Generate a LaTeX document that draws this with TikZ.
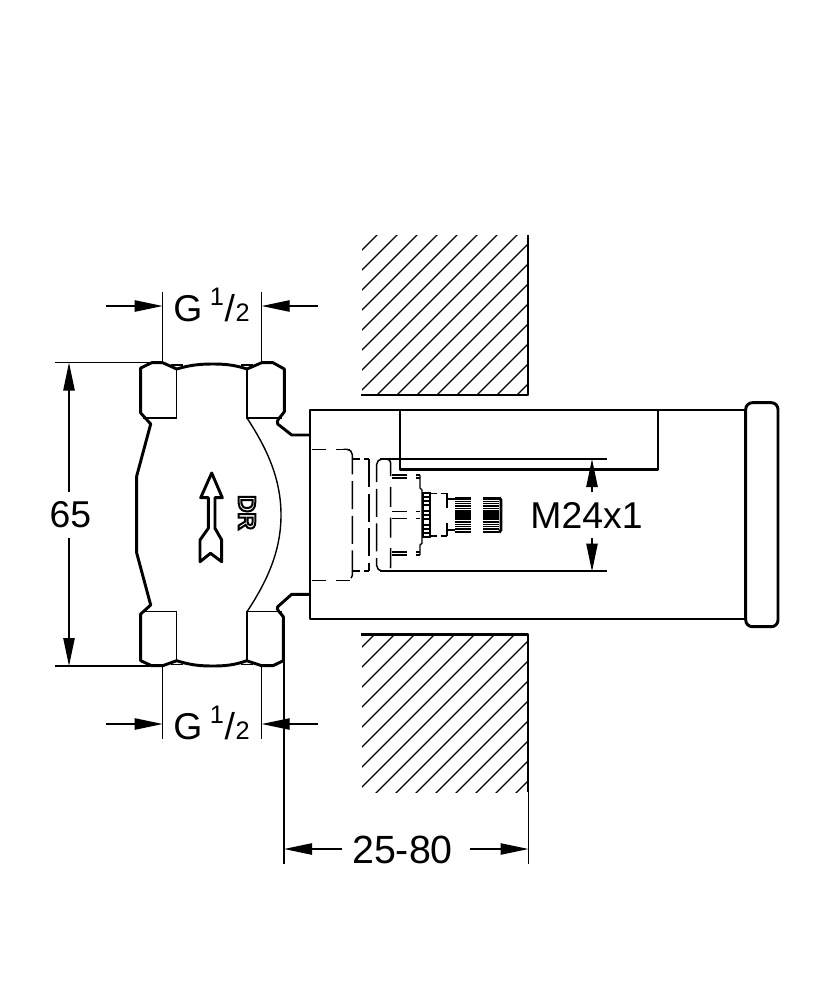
\documentclass[tikz,border=0pt]{standalone}
\usepackage{fontspec}
\setmainfont{Liberation Sans}
\usetikzlibrary{arrows.meta}
\newcommand{\halfsize}{G\kern0.2em\raisebox{0.45em}{\fontsize{19}{20}\selectfont 1}\kern0.02em/\kern0.02em{\fontsize{19}{20}\selectfont 2}}
\tikzset{
  thinline/.style={line width=1.05pt},
  thickline/.style={line width=2.2pt,line join=round},
  hatchline/.style={line width=1pt},
  dashline/.style={line width=1.1pt,dash pattern=on 21pt off 5pt},
  dashshort/.style={line width=1.1pt,dash pattern=on 11pt off 7pt},
  dimarrow/.style={line width=1.05pt,-{Triangle[length=21pt,width=8.5pt]}},
  dimtext/.style={inner sep=0pt,font=\fontsize{28}{32}\selectfont}
}
\begin{document}
\begin{tikzpicture}[x=0.75pt,y=0.75pt,yscale=-1,xscale=1]
	\useasboundingbox (0,0) rectangle (834,1000);

	%Wall top
	\begin{scope}
		\clip (362,235) rectangle (528,395);
		\foreach \c in {612,632,...,912}
			\draw [hatchline] (\c-400,400) -- (\c-200,200);
	\end{scope}
	\draw [thickline] (528,235) -- (528,395) -- (361,395);
	%Wall bottom
	\begin{scope}
		\clip (362,635) rectangle (528,792);
		\foreach \c in {1009,1029,...,1309}
			\draw [hatchline] (\c-820,820) -- (\c-620,620);
	\end{scope}
	\draw [thickline] (528,792) -- (528,634.5) -- (361,634.5);

	%Valve body
	\draw [thickline] (310,435) -- (291.7,435) -- (277.7,424) .. controls (276,420) and (280,418) .. (284.3,411.7) -- (284.3,369) -- (273,362.7) -- (261.7,362.7) -- (247,369) .. controls (235,365) and (225,364) .. (213,364) .. controls (200,364) and (190,365) .. (176.7,369) -- (162.7,362.7) -- (151.7,362.7) -- (140.7,368) -- (140.7,413) -- (150.7,424) -- (136.7,476) -- (136.7,553) -- (150.7,605) -- (140.7,614) -- (140.7,660.7) -- (151.7,665.7) -- (162.7,665.7) -- (176.7,660.7) .. controls (190,665) and (200,666) .. (213,666) .. controls (225,666) and (235,665) .. (246.7,660.7) -- (261.7,665.7) -- (273,665.7) -- (283.3,660.7) -- (283.3,616.7) .. controls (280,612) and (276,610) .. (277.7,606.7) -- (291.7,594.3) -- (310,594.3);
	\draw [thinline] (143,418) -- (176.7,418) -- (176.7,369);
	\draw [thinline] (281.7,418) -- (247,418) -- (247,369);
	\draw [thinline] (143,611.7) -- (176.7,611.7) -- (176.7,660.7);
	\draw [thinline] (281.7,611.7) -- (247,611.7) -- (247,660.7);
	\draw [thinline] (247,418) .. controls (268,450) and (281,480) .. (281,515) .. controls (281,550) and (268,580) .. (247,611.7);
	\draw [thinline] (171,365) -- (183,365);
	\draw [thinline] (241,365) -- (253,365);
	\draw [thinline] (171,664.5) -- (183,664.5);
	\draw [thinline] (241,664.5) -- (253,664.5);
	%Flow arrow
	\draw [thickline] (211.7,473) -- (200.7,497.7) -- (208.3,497.7) -- (208.3,528.3) -- (200,540) -- (200,561.7) -- (210.5,553.3) -- (221.7,561.7) -- (221.7,540) -- (215,528.3) -- (215,497.7) -- (222.3,497.7) -- cycle;
	\node (dr) at (247,512.5) [rotate=-90,inner sep=0pt,font=\bfseries\fontsize{18}{22}\selectfont] {\special{pdf:code 1 Tr 1.5 w}DR\special{pdf:code 0 Tr}};

	%Housing
	\draw [thickline] (745.7,410) -- (310,410) -- (310,619) -- (745.7,619);
	\draw [thickline] (400,410) -- (400,469.5) -- (658,469.5) -- (658,410);
	\draw [thickline,rounded corners=5pt] (745.7,500) -- (745.7,402.7) -- (778,402.7) -- (778,626.7) -- (745.7,626.7) -- cycle;

	%Hidden parts
	\draw [dashshort] (311.7,449.3) -- (350,449.3);
	\draw [dashshort] (311.7,580.7) -- (350,580.7);
	\draw [dashline,rounded corners=4pt] (347,449.3) -- (352.3,449.3) -- (352.3,580.7) -- (347,580.7);
	\draw [dashshort,dash pattern=on 5pt off 3pt] (353,459) -- (369,459);
	\draw [dashshort,dash pattern=on 5pt off 3pt] (353,571) -- (369,571);
	\draw [dashline] (369,459) -- (369,571);
	\draw [dashline,rounded corners=4pt] (380,459) -- (376.7,459) -- (376.7,571) -- (380,571);
	\draw [dashline,dash pattern=on 15pt off 8pt,rounded corners=3pt] (386,459) -- (390.7,459) -- (390.7,571) -- (386,571);
	\draw [dashshort] (392,475) -- (420,475);
	\draw [dashshort] (392,478) -- (420,478);
	\draw [dashshort] (392,552) -- (420,552);
	\draw [dashshort] (392,555) -- (420,555);
	\draw [dashshort] (392,511.7) -- (420,511.7);
	\draw [dashshort] (392,518.3) -- (420,518.3);
	\draw [thinline] (420,475) -- (420,488) -- (422,490) -- (422,543) -- (420,545) -- (420,555);
	\draw [thinline] (423,493) rectangle (430,537);
	\foreach \y in {497,501,505,511,515,519,525,529,533}
		\draw [thinline] (423,\y) -- (430,\y);
	\draw [dashshort,dash pattern=on 5pt off 3pt] (430,493.3) -- (447,493.3);
	\draw [dashshort,dash pattern=on 5pt off 3pt] (430,536) -- (447,536);
	\draw [thickline] (447,493.3) -- (447,508);
	\draw [thickline] (447,523) -- (447,536);
	\draw [thinline] (447,499) -- (455,499);
	\draw [thinline] (447,530) -- (455,530);
	%Knurl
	\fill (455,496.7) rectangle (470.7,533.3);
	\fill (482.7,496.7) rectangle (499,533.3);
	\foreach \y in {500,502.3,504.7,507,509.3,520.7,523,525.3,527.7,530}
		\draw [white,line width=0.5pt] (455,\y) -- (470.7,\y);
	\foreach \y in {500,502.3,504.7,507,509.3,520.7,523,525.3,527.7,530}
		\draw [white,line width=0.5pt] (482.7,\y) -- (499,\y);
	\draw [thickline] (499,497.5) -- (501,500) -- (501,530) -- (499,532.5);

	%Dimension G top
	\draw [thinline] (162.7,292) -- (162.7,362);
	\draw [thinline] (261.7,292) -- (261.7,362);
	\draw [dimarrow] (106,306) -- (162.7,306);
	\draw [dimarrow] (318,306) -- (261.7,306);
	\node (gtop) at (173,305) [anchor=west,dimtext] {\halfsize};
	%Dimension G bottom
	\draw [thinline] (162.7,667) -- (162.7,739);
	\draw [thinline] (261.7,667) -- (261.7,739);
	\draw [dimarrow] (106,724) -- (162.7,724);
	\draw [dimarrow] (318,724) -- (261.7,724);
	\node (gbot) at (173,723) [anchor=west,dimtext] {\halfsize};
	%Dimension 65
	\draw [thinline] (55,362.5) -- (150,362.5);
	\draw [thinline] (55,666) -- (150,666);
	\draw [dimarrow] (69,492) -- (69,362.5);
	\draw [dimarrow] (69,538) -- (69,666);
	\node (dimh) at (70.3,515) [dimtext] {65};
	%Dimension 25-80
	\draw [thinline] (284,617) -- (284,864);
	\draw [thinline] (528.5,792) -- (528.5,864);
	\draw [dimarrow] (342,849) -- (284,849);
	\draw [dimarrow] (470,849) -- (528.5,849);
	\node (dimw) at (402.5,850) [dimtext,font=\fontsize{29.5}{32}\selectfont] {25-80};
	%Dimension M24x1
	\draw [thinline] (380,459) -- (607,459);
	\draw [thinline] (380,571) -- (607,571);
	\draw [dimarrow] (592,492) -- (592,459);
	\draw [dimarrow] (592,538) -- (592,571.5);
	\node (thread) at (586.5,515) [dimtext] {M24x1};

\end{tikzpicture}
\end{document}
